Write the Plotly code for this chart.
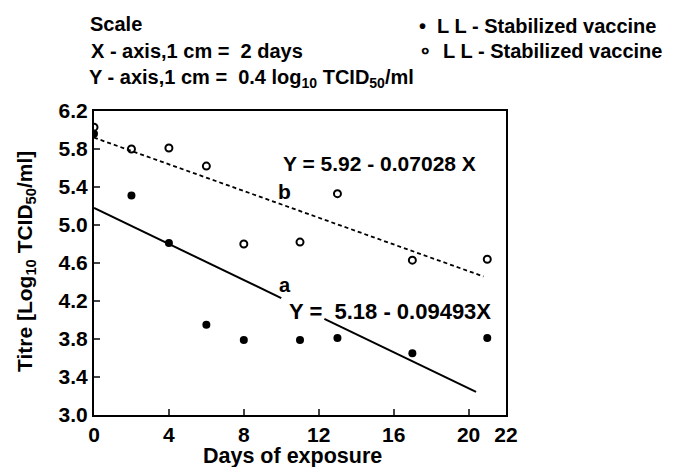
import plotly.graph_objects as go

# Data
days = [0, 2, 4, 6, 8, 11, 13, 17, 21]
titre_filled = [5.96, 5.31, 4.81, 3.95, 3.79, 3.79, 3.81, 3.65, 3.81]
titre_open = [6.03, 5.80, 5.81, 5.62, 4.80, 4.82, 5.33, 4.63, 4.64]

# Regression lines
a_intercept, a_slope = 5.18, -0.09493
b_intercept, b_slope = 5.92, -0.07028
a_segments = [(0, 10.0), (12.3, 20.4)]
b_range = (0, 20.8)

x_ticks = [0, 4, 8, 12, 16, 20, 22]
y_ticks = [3.0, 3.4, 3.8, 4.2, 4.6, 5.0, 5.4, 5.8, 6.2]

FONT = "Liberation Sans"

fig = go.Figure()

for (x0, x1) in a_segments:
    fig.add_trace(go.Scatter(x=[x0, x1], y=[a_intercept + a_slope * x0, a_intercept + a_slope * x1],
                             mode="lines", line=dict(color="black", width=2), showlegend=False))
fig.add_trace(go.Scatter(x=list(b_range), y=[b_intercept + b_slope * b_range[0], b_intercept + b_slope * b_range[1]],
                         mode="lines", line=dict(color="black", width=1.8, dash="4px,3px"), showlegend=False))

fig.add_trace(go.Scatter(x=days, y=titre_filled, mode="markers",
                         marker=dict(symbol="circle", size=8, color="black"), showlegend=False))
fig.add_trace(go.Scatter(x=days, y=titre_open, mode="markers",
                         marker=dict(symbol="circle-open", size=7, color="black", line=dict(width=2)),
                         showlegend=False))

# page body has an 8px margin, so the figure is placed at (8, 8)
OFF = 8
W, H = 684 - OFF, 467 - OFF
PL, PR, PT, PB = 94, 506, 111, 415  # plot area in window pixels
L, R, T, B = PL - OFF, (W + OFF) - PR, PT - OFF, (H + OFF) - PB
pw, ph = PR - PL, PB - PT

def px(x):
    return (x - PL) / pw

def py(y):
    return (PB - y) / ph

txt = dict(family=FONT, size=16, color="black", weight="bold")
ann = []
def add(x, y, text, size=16, xanchor="left", angle=0):
    ann.append(dict(x=px(x), y=py(y), xref="paper", yref="paper", text=text, showarrow=False,
                    xanchor=xanchor, yanchor="middle", textangle=angle, font=dict(txt, size=size)))

add(88, 24, "Scale", 20)
add(89, 51, "X - axis,1 cm =  2 days", 20)
add(87, 78, "Y - axis,1 cm =  0.4 log<sub>10</sub> TCID<sub>50</sub>/ml", 20)
add(417, 26, "•  L L - Stabilized vaccine", 20)
add(417, 51, "∘  L L - Stabilized vaccine", 20)
add(281, 163, "Y = 5.92 - 0.07028 X", 21)
add(276, 191, "b", 21)
add(277, 285, "a", 20)
add(287, 311, "Y =  5.18 - 0.09493X", 22)
add(292, 456, "Days of exposure", 21.5, xanchor="center")
add(26, 262, "Titre [Log<sub>10</sub> TCID<sub>50</sub>/ml]", 21, xanchor="center", angle=-90)

fig.update_layout(
    width=W, height=H,
    margin=dict(l=L, r=R, t=T, b=B, autoexpand=False),
    plot_bgcolor="white", paper_bgcolor="white",
    font=dict(family=FONT, color="black"),
    annotations=ann,
)
fig.update_xaxes(range=[0, 22], tickvals=x_ticks, ticks="inside", ticklen=6, tickwidth=2,
                 showline=True, linecolor="black", linewidth=2, mirror=True, showgrid=False, zeroline=False,
                 tickfont=dict(txt, size=21), automargin=False)
fig.update_yaxes(range=[3.0, 6.2], tickvals=y_ticks, tickformat=".1f", ticksuffix="\u00a0\u00a0",
                 ticks="inside", ticklen=6, tickwidth=2,
                 showline=True, linecolor="black", linewidth=2, mirror=True, showgrid=False, zeroline=False,
                 tickfont=dict(txt, size=21), automargin=False)

fig.write_html("out.html")
